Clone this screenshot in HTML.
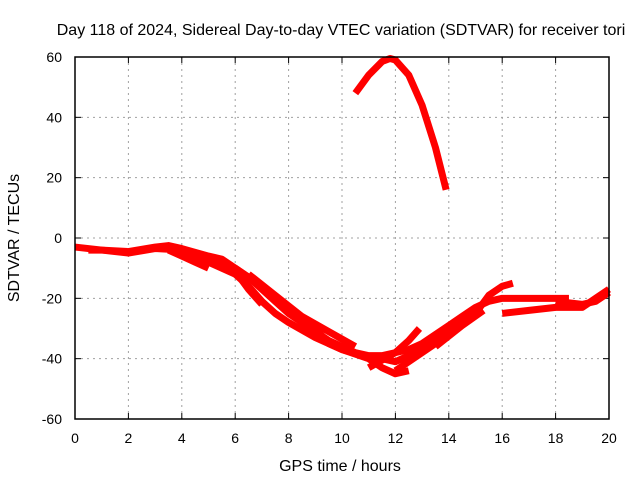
<!DOCTYPE html>
<html><head><meta charset="utf-8"><style>
body{margin:0;background:#fff}
svg text{font-family:"Liberation Sans",sans-serif;font-size:14px;fill:#000}
svg text.tt{font-size:16px}
</style></head><body>
<svg width="640" height="480" id="c">
<text class="tt" x="341" y="35" text-anchor="middle">Day 118 of 2024, Sidereal Day-to-day VTEC variation (SDTVAR) for receiver tori</text>
<text class="tt" x="340" y="471" text-anchor="middle">GPS time / hours</text>
<text class="tt" transform="translate(19,238) rotate(-90)" text-anchor="middle">SDTVAR / TECUs</text>
<g id="grid"></g><g id="ticks"></g><g id="data"></g>
<rect x="75" y="57" width="534" height="362" fill="none" stroke="#000" stroke-width="1.5"/>
</svg>
<script>
const xTicks=[0,2,4,6,8,10,12,14,16,18,20];
const yTicks=[-60,-40,-20,0,20,40,60];
const trackA=[[0,-3],[1,-4],[2,-4.5],[3,-3],[3.5,-2.5],[4,-3.5],[5,-6],[5.5,-7],[6,-10],[6.5,-13],[7,-17],[7.5,-21],[8,-25],[8.5,-28],[9,-31],[9.5,-34],[10,-36],[10.5,-38],[11,-39],[11.5,-39],[12,-38],[12.5,-37],[13,-35],[13.5,-32],[14,-29],[14.5,-26],[15,-23],[15.5,-21],[16,-20],[17,-20],[18,-20],[18.5,-20]];
const trackB=[[0.5,-4],[1,-4],[2,-5],[3,-3.5],[4,-4],[5,-8],[6,-12],[6.5,-16],[7,-21],[7.5,-25],[8,-28],[9,-33],[10,-37],[11,-39.5],[11.5,-40],[12,-41],[12.5,-39],[13,-36],[14,-31],[15,-25],[15.5,-19],[16,-16],[16.4,-15]];
const trackC=[[3.5,-4],[4,-6],[4.5,-8],[5,-10]];
const trackD=[[5,-6],[6,-11],[6.5,-17],[7,-22]];
const trackE=[[6,-10],[7,-16],[8,-24],[9,-30],[9.5,-35],[10,-37],[11,-40],[11.5,-43],[12,-45],[12.5,-44]];
const trackF=[[11,-43],[12,-38],[12.5,-34],[12.9,-30]];
const trackG=[[12,-44],[13,-38],[14,-32],[14.7,-27]];
const trackH=[[13.5,-36],[14.5,-29],[15.3,-24]];
const trackI=[[16,-25],[17,-24],[18,-23],[19,-23],[19.5,-20],[20,-17]];
const trackJ=[[18,-21],[19,-22],[19.5,-21],[20,-18]];
const trackK=[[6.5,-12],[7.5,-19],[8.5,-26],[9.5,-31],[10.5,-36]];
const trackArc=[[10.5,48],[11,54],[11.5,58.5],[11.8,59.5],[12,59],[12.5,54],[13,44],[13.5,30],[13.9,16]];
const tracks=[trackA,trackB,trackC,trackD,trackE,trackF,trackG,trackH,trackI,trackJ,trackK,trackArc];
const X=h=>75+h*534/20, Y=v=>238-v*362/120;
const NS="http://www.w3.org/2000/svg";
const g=document.getElementById('grid'),t=document.getElementById('ticks'),d=document.getElementById('data');
function mk(tag,a,p){const e=document.createElementNS(NS,tag);for(const k in a)e.setAttribute(k,a[k]);p.appendChild(e);return e;}
xTicks.forEach(v=>{
 const l=mk('line',{x1:X(v),x2:X(v),y1:57,y2:419,stroke:'#a0a0a0','stroke-dasharray':'2,4'},g);
 
 
 const s=mk('text',{x:X(v),y:443,'text-anchor':'middle'},t);s.textContent=v;
 
 
 mk('line',{x1:X(v),x2:X(v),y1:419,y2:413,stroke:'#000'},t);
 mk('line',{x1:X(v),x2:X(v),y1:57,y2:63,stroke:'#000'},t);
});
yTicks.forEach(v=>{
 const l=mk('line',{x1:75,x2:609,y1:Y(v),y2:Y(v),stroke:'#a0a0a0','stroke-dasharray':'2,4'},g);
 
 
 const s=mk('text',{x:62,y:Y(v)+5,'text-anchor':'end'},t);s.textContent=v;
 
 
 mk('line',{x1:75,x2:81,y1:Y(v),y2:Y(v),stroke:'#000'},t);
 mk('line',{x1:603,x2:609,y1:Y(v),y2:Y(v),stroke:'#000'},t);
});
tracks.forEach(tr=>{
 const p=mk('polyline',{points:tr.map(q=>X(q[0])+','+Y(q[1])).join(' '),fill:'none',stroke:'#ff0000','stroke-width':7,'stroke-linejoin':'round'},d);
 
 
});
</script>
</body></html>
